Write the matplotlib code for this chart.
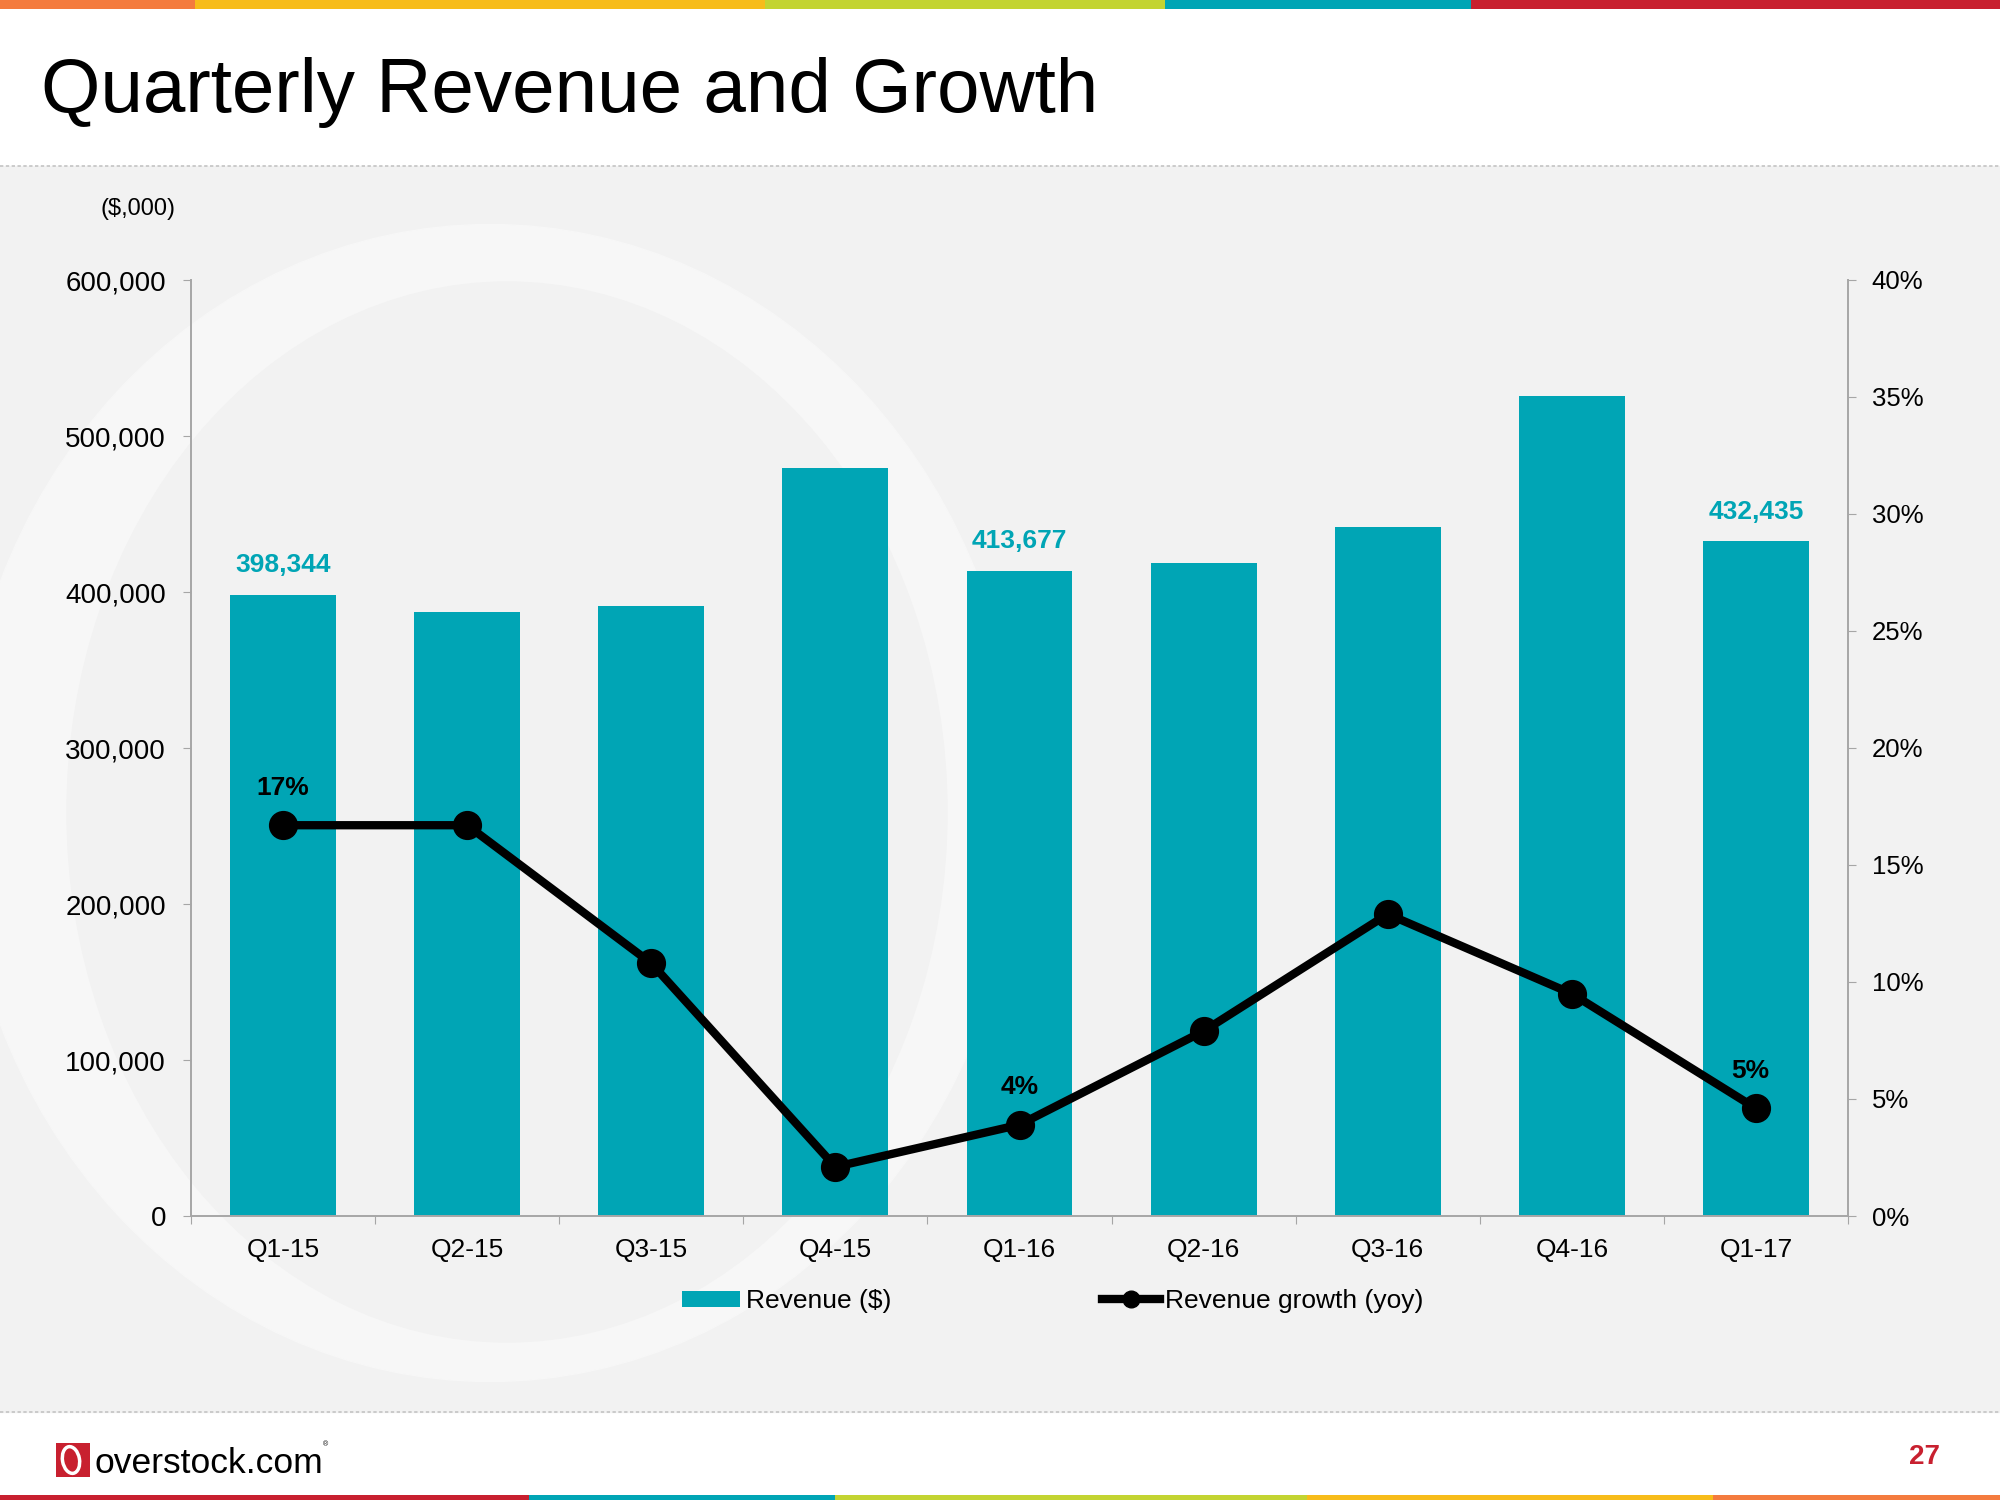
import matplotlib
matplotlib.use('Agg')
import matplotlib.pyplot as plt
import numpy as np
from matplotlib.patches import Rectangle, Ellipse
from matplotlib.ticker import FuncFormatter, FixedLocator

plt.rcParams['font.family'] = ['Liberation Sans', 'DejaVu Sans']

# data
quarters = ['Q1-15', 'Q2-15', 'Q3-15', 'Q4-15', 'Q1-16', 'Q2-16', 'Q3-16', 'Q4-16', 'Q1-17']
revenue = [398344, 387500, 390800, 479800, 413677, 418400, 441400, 525500, 432435]
growth = [16.7, 16.7, 10.8, 2.1, 3.9, 7.9, 12.9, 9.5, 4.6]  # percent yoy
labelled = [0, 4, 8]

TEAL = '#00a5b5'
RED = '#c8202f'
BG = '#f2f2f2'

fig = plt.figure(figsize=(20, 15), dpi=100)

# slide decoration drawn in pixel coordinates
deco = fig.add_axes([0, 0, 1, 1], zorder=0)
deco.set_xlim(0, 2000)
deco.set_ylim(1500, 0)
deco.axis('off')

gray = Rectangle((0, 166), 2000, 1246, color=BG, zorder=0)
deco.add_patch(gray)
outer = Ellipse((490, 803), 1060, 1157, color='#f7f7f7', zorder=1)
inner = Ellipse((507, 812), 880, 1060, color=BG, zorder=2)
deco.add_patch(outer)
deco.add_patch(inner)
outer.set_clip_path(gray)
deco.plot([0, 2000], [166, 166], color='#c4c4c4', lw=1.2, ls=(0, (2, 1.5)), zorder=3)
deco.plot([0, 2000], [1412, 1412], color='#c4c4c4', lw=1.2, ls=(0, (2, 1.5)), zorder=3)

top_strip = [(0, 195, '#f47b3e'), (195, 765, '#f7bc1a'), (765, 1165, '#c3d431'),
             (1165, 1471, '#00a5b5'), (1471, 2000, RED)]
for x0, x1, c in top_strip:
    deco.add_patch(Rectangle((x0, 0), x1 - x0, 9, color=c, lw=0))
bottom_strip = [(0, 529, RED), (529, 835, '#00a5b5'), (835, 1307, '#c3d431'),
                (1307, 1713, '#f7bc1a'), (1713, 2000, '#f47b3e')]
for x0, x1, c in bottom_strip:
    deco.add_patch(Rectangle((x0, 1495), x1 - x0, 5, color=c, lw=0))

deco.text(41, 112, 'Quarterly Revenue and Growth', fontsize=55, va='baseline', ha='left')

# logo and page number
deco.add_patch(Rectangle((56, 1443), 34, 34, color=RED, lw=0))
deco.add_patch(Ellipse((71, 1460), 17, 27, angle=-10, fill=False, ec='white', lw=2.5))
deco.text(95, 1473, 'overstock.com', fontsize=25.5, va='baseline', ha='left')
deco.text(323, 1446, '®', fontsize=5, va='baseline', ha='left')
deco.text(1924, 1457, '27', fontsize=20, fontweight='bold', color=RED, va='center', ha='center')

deco.text(176, 209, '($,000)', fontsize=17, va='center', ha='right')

# chart
ax = fig.add_axes([191 / 2000, 1 - 1216 / 1500, (1848 - 191) / 2000, (1216 - 280) / 1500], zorder=1)
ax.patch.set_visible(False)
x = np.arange(len(quarters))
bars = ax.bar(x, revenue, width=0.575, color=TEAL, label='Revenue ($)', zorder=2)
ax.set_xlim(-0.5, len(quarters) - 0.5)
ax.set_ylim(0, 600000)
ax.set_yticks(np.arange(0, 600001, 100000))
ax.yaxis.set_major_formatter(FuncFormatter(lambda v, p: f'{v:,.0f}'))
ax.set_xticks(x)
ax.set_xticklabels(quarters)
ax.xaxis.set_minor_locator(FixedLocator(np.arange(-0.5, len(quarters), 1)))

spine_c = '#a6a6a6'
for s in ['top', 'right']:
    ax.spines[s].set_visible(False)
for s in ['left', 'bottom']:
    ax.spines[s].set_color(spine_c)
    ax.spines[s].set_linewidth(1.4)
ax.tick_params(axis='y', length=6, width=0.8, color=spine_c, pad=12, labelsize=20)
ax.tick_params(axis='x', which='major', length=0, pad=16, labelsize=19)
ax.tick_params(axis='x', which='minor', length=6, width=0.8, color=spine_c)

for i in labelled:
    ax.annotate(f'{revenue[i]:,}', (x[i], revenue[i]), xytext=(0, 21), textcoords='offset points',
                ha='center', va='center', fontsize=19, fontweight='bold', color=TEAL)

ax2 = ax.twinx()
ax2.set_zorder(2)
ax2.patch.set_visible(False)
line, = ax2.plot(x, growth, color='black', lw=6, marker='o', markersize=20,
                 label='Revenue growth (yoy)', zorder=3)
ax2.set_ylim(0, 40)
ax2.set_yticks(np.arange(0, 41, 5))
ax2.yaxis.set_major_formatter(FuncFormatter(lambda v, p: f'{v:.0f}%'))
for s in ['top', 'left', 'bottom']:
    ax2.spines[s].set_visible(False)
ax2.spines['right'].set_color(spine_c)
ax2.spines['right'].set_linewidth(1.4)
ax2.tick_params(axis='y', length=6, width=0.8, color=spine_c, pad=11, labelsize=18.5)

for i in labelled:
    dx = -4 if i == len(quarters) - 1 else 0
    ax2.annotate(f'{growth[i]:.0f}%', (x[i], growth[i]), xytext=(dx, 27), textcoords='offset points',
                 ha='center', va='center', fontsize=19, fontweight='bold', color='black')

fig.legend([bars, line], ['Revenue ($)', 'Revenue growth (yoy)'], loc='center',
           bbox_to_anchor=(1053 / 2000, 1 - 1301 / 1500), ncol=2, frameon=False,
           fontsize=19, handlelength=2.2, handleheight=0.55, handletextpad=0.2,
           columnspacing=8, markerscale=0.6)

fig.savefig('out.png', dpi=100)
